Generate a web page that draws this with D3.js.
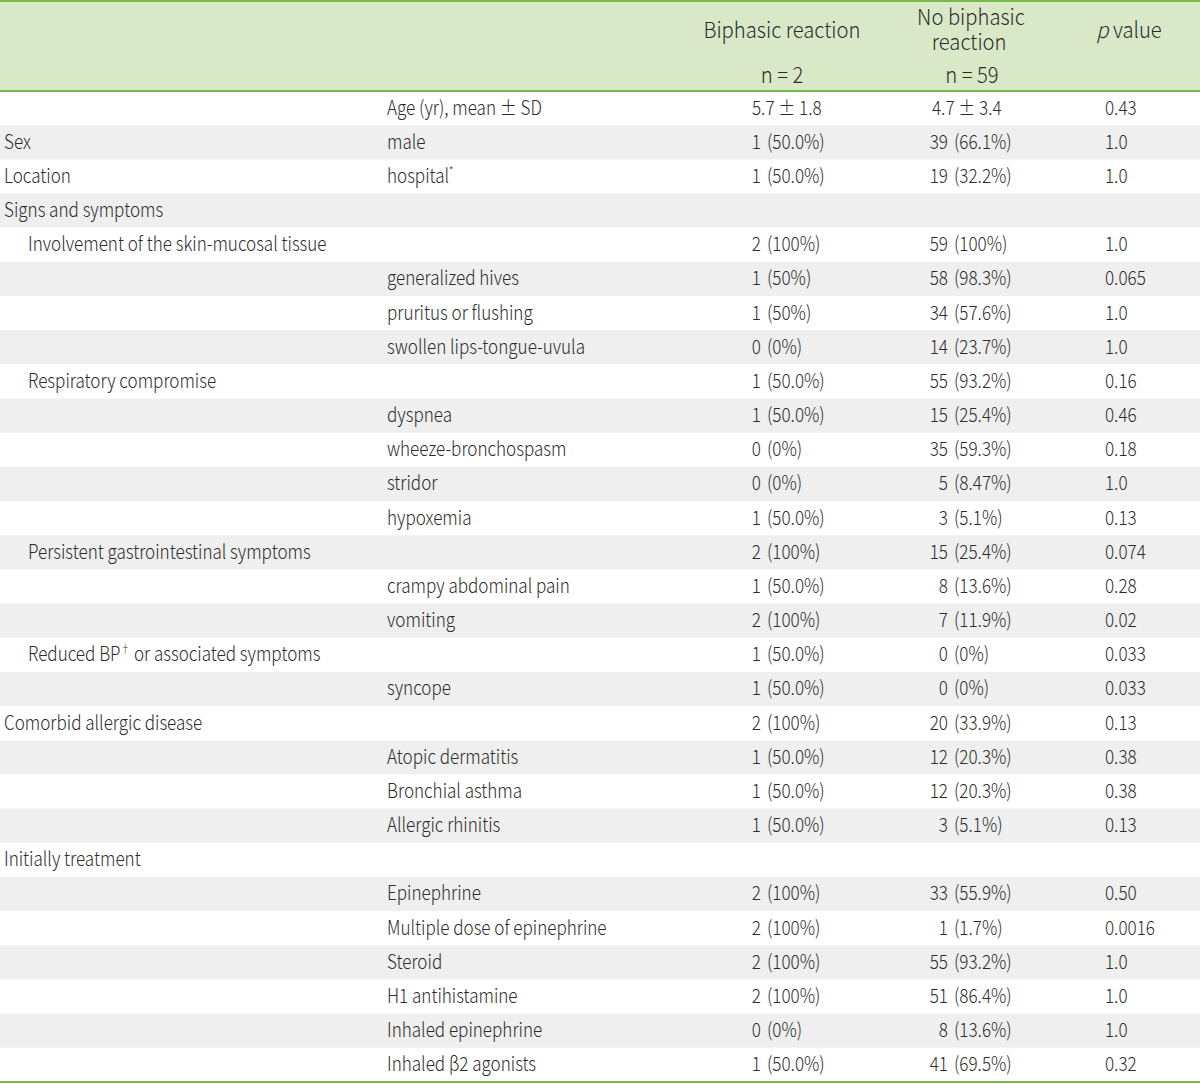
<!DOCTYPE html>
<html><head><meta charset="utf-8">
<script src="https://cdn.jsdelivr.net/npm/d3@7"></script>
<style>
html,body{margin:0;padding:0;background:#fff;}
svg{display:block;}
text{font-family:"Noto Sans CJK KR","Noto Sans",sans-serif;fill:#2b2b2b;font-weight:300;}
</style></head>
<body>
<svg id="chart" width="1200" height="1084"></svg>
<script>
// ---- data ----
const groupLabels = ["", "Sex", "Location", "Signs and symptoms", "Involvement of the skin-mucosal tissue", "", "", "", "Respiratory compromise", "", "", "", "", "Persistent gastrointestinal symptoms", "", "", "Reduced BP|†| or associated symptoms", "", "Comorbid allergic disease", "", "", "", "Initially treatment", "", "", "", "", "", ""];
const groupLevels = [0,0,0,0,1,0,0,0,1,0,0,0,0,1,0,0,1,0,0,0,0,0,0,0,0,0,0,0,0];
const itemLabels = ["Age (yr), mean ± SD", "male", "hospital|*|", "", "", "generalized hives", "pruritus or flushing", "swollen lips-tongue-uvula", "", "dyspnea", "wheeze-bronchospasm", "stridor", "hypoxemia", "", "crampy abdominal pain", "vomiting", "", "syncope", "", "Atopic dermatitis", "Bronchial asthma", "Allergic rhinitis", "", "Epinephrine", "Multiple dose of epinephrine", "Steroid", "H1 antihistamine", "Inhaled epinephrine", "Inhaled β2 agonists"];
const biCounts = ["5.7 ± 1.8", "1", "1", "", "2", "1", "1", "0", "1", "1", "0", "0", "1", "2", "1", "2", "1", "1", "2", "1", "1", "1", "", "2", "2", "2", "2", "0", "1"];
const biPcts = ["", "(50.0%)", "(50.0%)", "", "(100%)", "(50%)", "(50%)", "(0%)", "(50.0%)", "(50.0%)", "(0%)", "(0%)", "(50.0%)", "(100%)", "(50.0%)", "(100%)", "(50.0%)", "(50.0%)", "(100%)", "(50.0%)", "(50.0%)", "(50.0%)", "", "(100%)", "(100%)", "(100%)", "(100%)", "(0%)", "(50.0%)"];
const noCounts = ["4.7 ± 3.4", "39", "19", "", "59", "58", "34", "14", "55", "15", "35", "5", "3", "15", "8", "7", "0", "0", "20", "12", "12", "3", "", "33", "1", "55", "51", "8", "41"];
const noPcts = ["", "(66.1%)", "(32.2%)", "", "(100%)", "(98.3%)", "(57.6%)", "(23.7%)", "(93.2%)", "(25.4%)", "(59.3%)", "(8.47%)", "(5.1%)", "(25.4%)", "(13.6%)", "(11.9%)", "(0%)", "(0%)", "(33.9%)", "(20.3%)", "(20.3%)", "(5.1%)", "", "(55.9%)", "(1.7%)", "(93.2%)", "(86.4%)", "(13.6%)", "(69.5%)"];
const pValues = ["0.43", "1.0", "1.0", "", "1.0", "0.065", "1.0", "1.0", "0.16", "0.46", "0.18", "1.0", "0.13", "0.074", "0.28", "0.02", "0.033", "0.033", "0.13", "0.38", "0.38", "0.13", "", "0.50", "0.0016", "1.0", "1.0", "1.0", "0.32"];
const headerCols = ["Biphasic reaction", "No biphasic", "reaction", "p value"];
const headerNs = ["n = 2", "n = 59"];

// ---- layout ----
const W = 1200, H = 1084;
const svg = d3.select("#chart");
const rowIdx = d3.range(itemLabels.length);
const y = d3.scaleBand().domain(rowIdx).range([91, 1082]).padding(0);
const FS = 19.5, SX = 0.875, HFS = 22, HSX = 0.92;
const GREEN = "#79b94c", HEAD_BG = "#d9e9c7", STRIPE = "#eeefee";

svg.append("rect").attr("x",0).attr("y",0).attr("width",W).attr("height",91).attr("fill",HEAD_BG);
svg.append("g").selectAll("rect").data(rowIdx.filter(i => i % 2 === 1)).join("rect")
  .attr("x",0).attr("width",W).attr("y",i => y(i)).attr("height",y.bandwidth()).attr("fill",STRIPE);
[1, 91, 1082].forEach(ly => svg.append("line").attr("x1",0).attr("x2",W).attr("y1",ly).attr("y2",ly)
  .attr("stroke",GREEN).attr("stroke-width",2));

function richText(sel, str) {
  str.split("|").forEach((p, k) => {
    if (!p) return;
    if (k % 2 === 1) sel.append("tspan").attr("dy",-8).attr("font-size",11).text(p);
    else { const t = sel.append("tspan").text(p); if (k > 0) t.attr("dy",8); }
  });
}
function put(g, x, yy, sx, anchor) {
  return g.append("text").attr("transform", `translate(${x},${yy}) scale(${sx},1)`)
    .attr("text-anchor", anchor || "start");
}

// header
const hg = svg.append("g").attr("font-size", HFS);
put(hg, 782, 38, HSX, "middle").text(headerCols[0]);
const nb = put(hg, 971, 25, HSX, "middle");
nb.append("tspan").attr("x",0).attr("y",0).text(headerCols[1]);
nb.append("tspan").attr("x",-2).attr("y",25).text(headerCols[2]);
const pv = put(hg, 1129, 38, HSX, "middle");
pv.append("tspan").attr("font-style","italic").text("p");
pv.append("tspan").text(" value");
put(hg, 782, 83, HSX, "middle").text(headerNs[0]);
put(hg, 972, 83, HSX, "middle").text(headerNs[1]);

// body
const body = svg.append("g").attr("font-size", FS);
const base = i => y(i) + 23.5;
rowIdx.forEach(i => {
  const yy = base(i);
  if (groupLabels[i]) richText(put(body, groupLevels[i] ? 28 : 4, yy, SX), groupLabels[i]);
  if (itemLabels[i]) richText(put(body, 387, yy, SX), itemLabels[i]);
  if (biCounts[i]) {
    if (biPcts[i]) { put(body, 761, yy, SX, "end").text(biCounts[i]); put(body, 767, yy, SX).text(biPcts[i]); }
    else put(body, 752, yy, SX).text(biCounts[i]);
  }
  if (noCounts[i]) {
    if (noPcts[i]) { put(body, 948, yy, SX, "end").text(noCounts[i]); put(body, 954, yy, SX).text(noPcts[i]); }
    else put(body, 932, yy, SX).text(noCounts[i]);
  }
  if (pValues[i]) put(body, 1105, yy, SX).text(pValues[i]);
});
</script>
</body></html>
